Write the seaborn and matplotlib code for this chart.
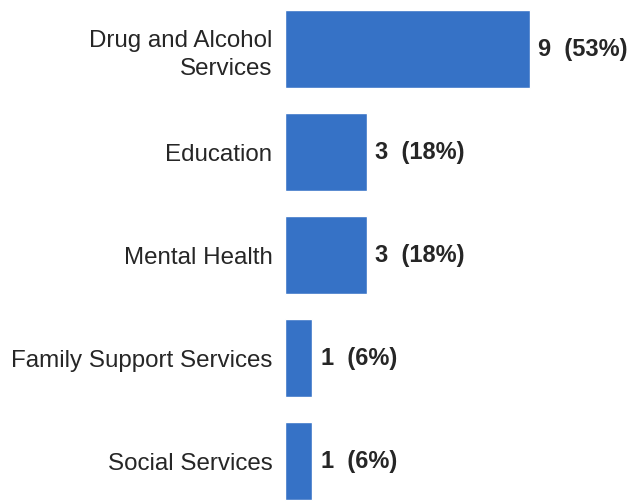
import matplotlib
matplotlib.use("Agg")
import matplotlib.pyplot as plt
import seaborn as sns

# data
categories = ["Drug and Alcohol\nServices", "Education", "Mental Health",
              "Family Support Services", "Social Services"]
counts = [9, 3, 3, 1, 1]
percents = [53, 18, 18, 6, 6]

sns.set_style("white")
plt.rcParams["font.family"] = ["Liberation Sans", "DejaVu Sans"]

fig = plt.figure(figsize=(6.32, 5.04), dpi=100)
ax = fig.add_axes([0.451, 0.0, 0.549, 1.0])

sns.barplot(x=counts, y=categories, orient="h", color="#3672C6",
            saturation=1, width=0.75, ax=ax)

labels = ["{}  ({}%)".format(c, p) for c, p in zip(counts, percents)]
ax.bar_label(ax.containers[0], labels=labels, padding=6,
             fontsize=17, fontweight="bold", color="#262626")

ax.set_xlim(0, 12.75)
ax.set_ylim(4.417, -0.476)
ax.set_xticks([])
ax.set_xlabel("")
ax.tick_params(axis="y", length=0, pad=9, labelsize=17.4, labelcolor="#262626")
for lbl in ax.get_yticklabels():
    lbl.set_horizontalalignment("right")
    lbl.set_linespacing(1.4)
sns.despine(ax=ax, left=True, bottom=True)

fig.savefig("out.png", dpi=100)
